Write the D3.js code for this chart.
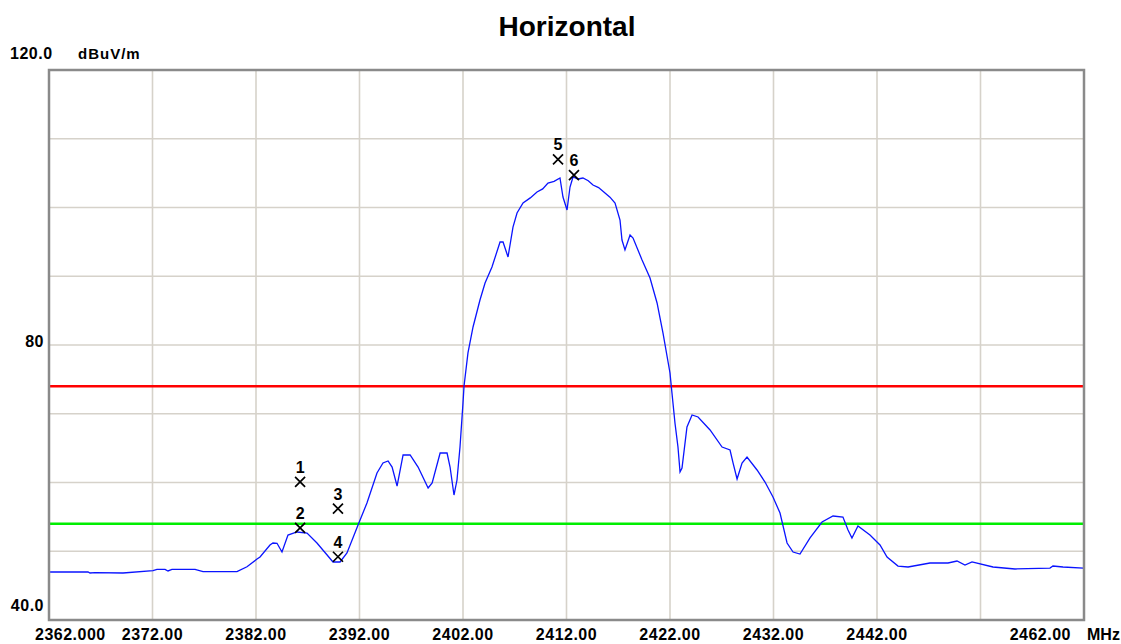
<!DOCTYPE html>
<html>
<head>
<meta charset="utf-8">
<script src="https://cdn.jsdelivr.net/npm/d3@7"></script>
<style>
  body { margin: 0; background: #fff; }
  text { font-family: "Liberation Sans", Arial, sans-serif; font-weight: bold; fill: #000; }
</style>
</head>
<body>
<script>

// ---- data ----
var title = "Horizontal";
var yUnit = "dBuV/m";
var xUnit = "MHz";

var xDomain = [2362, 2462];
var yDomain = [40, 120];

// tick labels under the axis (2452 has none in the original)
var xTickValues = [2362, 2372, 2382, 2392, 2402, 2412, 2422, 2432, 2442, 2462];
var xTickLabels = ["2362.000", "2372.00", "2382.00", "2392.00", "2402.00", "2412.00", "2422.00", "2432.00", "2442.00", "2462.00"];
var yTickValues = [120, 80, 40];
var yTickLabels = ["120.0", "80", "40.0"];

// limit lines
var limitPeak = 74;
var limitAvg = 54;

// measured trace
var freq = [2362.10, 2365.77, 2365.96, 2366.44, 2369.15, 2372.05, 2372.43, 2373.21, 2373.50, 2373.88,
  2376.11, 2376.88, 2380.16, 2381.13, 2382.10, 2382.39, 2383.35, 2383.64, 2384.03, 2384.51,
  2385.09, 2385.96, 2386.93, 2387.89, 2389.44, 2390.12, 2390.79, 2391.86, 2392.72, 2393.69,
  2394.27, 2394.76, 2395.15, 2395.63, 2396.21, 2396.89, 2397.66, 2398.63, 2399.02, 2399.79,
  2400.46, 2400.75, 2401.13, 2401.42, 2401.71, 2402.00, 2402.10, 2402.48, 2402.97, 2403.64,
  2404.13, 2404.80, 2405.58, 2405.87, 2406.35, 2406.83, 2407.22, 2407.80, 2408.50, 2409.15,
  2409.70, 2410.21, 2410.80, 2411.37, 2411.66, 2412.05, 2412.34, 2412.63, 2413.11, 2413.59,
  2414.10, 2414.56, 2415.10, 2415.72, 2416.20, 2416.69,
  2417.17, 2417.36, 2417.65, 2418.14, 2418.43, 2419.30, 2420.07, 2420.75, 2421.32, 2422.00,
  2422.19, 2422.48, 2422.77, 2422.97, 2423.16, 2423.64, 2424.13, 2424.71, 2425.87, 2427.03,
  2427.80, 2428.09, 2428.48, 2428.96, 2429.44, 2430.41, 2431.18, 2431.95, 2432.63, 2433.31,
  2433.89, 2434.56, 2435.53, 2436.69, 2437.75, 2438.71, 2439.20, 2439.58, 2440.16, 2441.32,
  2442.29, 2442.97, 2444.03, 2445.00, 2447.12, 2448.86, 2449.73, 2450.50, 2451.18, 2453.21,
  2455.33, 2458.71, 2459.00, 2459.97, 2461.94];
var level = [46.98, 46.98, 46.84, 46.90, 46.84, 47.17, 47.37, 47.35, 47.13, 47.35,
  47.37, 47.03, 47.03, 47.75, 48.87, 49.16, 50.91, 51.20, 51.16, 49.89,
  52.36, 52.80, 52.65, 51.20, 48.44, 48.44, 49.75, 53.82, 57.02, 61.38,
  62.84, 63.13, 62.25, 59.49, 64.00, 64.00, 62.25, 59.20, 59.93, 64.29,
  64.29, 62.25, 58.18, 60.36, 65.16, 71.56, 74.04, 78.84, 82.62, 86.55,
  89.02, 91.35, 94.98, 94.98, 92.80, 97.16, 99.20, 100.65, 101.40, 102.25,
  102.70, 103.56, 103.80, 104.29, 101.53, 99.64, 102.98, 104.44, 104.15, 104.29,
  103.90, 103.27, 102.90, 102.11, 101.50, 100.65,
  98.18, 95.27, 93.82, 96.00, 95.56, 92.36, 89.75, 86.11, 81.75, 75.93,
  73.02, 68.65, 65.16, 61.53, 62.11, 68.07, 69.82, 69.53, 67.64, 65.16,
  64.73, 62.84, 60.51, 62.84, 63.71, 61.82, 60.07, 57.89, 55.56, 51.20,
  49.89, 49.60, 51.93, 54.25, 55.13, 54.98, 53.09, 51.93, 53.67, 52.36,
  50.91, 49.16, 47.85, 47.71, 48.29, 48.29, 48.58, 48.00, 48.44, 47.71,
  47.42, 47.56, 47.85, 47.71, 47.56];

// markers
var markerIds = ["1", "2", "3", "4", "5", "6"];
var markerFreq = [2386.26, 2386.26, 2389.92, 2389.92, 2411.18, 2412.72];
var markerLevel = [60.1, 53.4, 56.2, 49.2, 107.0, 104.7];


// ---- layout ----
var W = 1121, H = 644;
var plot = { left: 49, top: 70, right: 1084, bottom: 620 };

var svg = d3.select("body").append("svg")
  .attr("width", W)
  .attr("height", H);

var x = d3.scaleLinear().domain(xDomain).range([plot.left, plot.right]);
var y = d3.scaleLinear().domain(yDomain).range([plot.bottom, plot.top]);

// grid
var gridX = d3.range(2372, 2462, 10);
var gridY = d3.range(50, 120, 10);

svg.append("g").selectAll("line")
  .data(gridX)
  .join("line")
  .attr("x1", function(d) { return x(d); })
  .attr("x2", function(d) { return x(d); })
  .attr("y1", plot.top)
  .attr("y2", plot.bottom)
  .attr("stroke", "#d6d2ca")
  .attr("stroke-width", 1.6);

svg.append("g").selectAll("line")
  .data(gridY)
  .join("line")
  .attr("x1", plot.left)
  .attr("x2", plot.right)
  .attr("y1", function(d) { return y(d); })
  .attr("y2", function(d) { return y(d); })
  .attr("stroke", "#d6d2ca")
  .attr("stroke-width", 1.6);

// limit lines
svg.append("line")
  .attr("x1", plot.left).attr("x2", plot.right)
  .attr("y1", y(limitPeak)).attr("y2", y(limitPeak))
  .attr("stroke", "#ff0000")
  .attr("stroke-width", 2.5);

svg.append("line")
  .attr("x1", plot.left).attr("x2", plot.right)
  .attr("y1", y(limitAvg)).attr("y2", y(limitAvg))
  .attr("stroke", "#00ee00")
  .attr("stroke-width", 2.5);

// trace
var pts = freq.map(function(f, i) { return [f, level[i]]; });
var line = d3.line()
  .x(function(d) { return x(d[0]); })
  .y(function(d) { return y(d[1]); });

svg.append("path")
  .datum(pts)
  .attr("d", line)
  .attr("fill", "none")
  .attr("stroke", "#0a14ff")
  .attr("stroke-width", 1.3);

// plot frame
svg.append("rect")
  .attr("x", plot.left)
  .attr("y", plot.top)
  .attr("width", plot.right - plot.left)
  .attr("height", plot.bottom - plot.top)
  .attr("fill", "none")
  .attr("stroke", "#8a8a8a")
  .attr("stroke-width", 2.5);

// markers
var mk = svg.append("g").selectAll("g")
  .data(markerIds)
  .join("g")
  .attr("transform", function(d, i) { return "translate(" + x(markerFreq[i]) + "," + y(markerLevel[i]) + ")"; });

mk.append("path")
  .attr("d", "M-5,-5L5,5M-5,5L5,-5")
  .attr("stroke", "#000")
  .attr("stroke-width", 1.7);

mk.append("text")
  .attr("x", 0)
  .attr("y", -9)
  .attr("text-anchor", "middle")
  .style("font-size", "16px")
  .text(function(d) { return d; });

// title
svg.append("text")
  .attr("x", 567)
  .attr("y", 36)
  .attr("text-anchor", "middle")
  .style("font-size", "28px")
  .text(title);

// y labels
svg.append("g").selectAll("text")
  .data(yTickValues)
  .join("text")
  .attr("x", function(d, i) { return i == 0 ? 10 : 44; })
  .attr("y", function(d, i) {
    if (i == 0) return 59;
    if (i == 2) return y(d) - 9;
    return y(d) + 2;
  })
  .attr("text-anchor", function(d, i) { return i == 0 ? "start" : "end"; })
  .style("font-size", "16px")
  .style("letter-spacing", "0.5px")
  .text(function(d, i) { return yTickLabels[i]; });

svg.append("text")
  .attr("x", 78)
  .attr("y", 59)
  .style("font-size", "15px")
  .style("letter-spacing", "1px")
  .text(yUnit);

// x labels
svg.append("g").selectAll("text")
  .data(xTickValues)
  .join("text")
  .attr("x", function(d, i) {
    if (i == 0) return x(d) - 14;
    if (i == xTickValues.length - 1) return x(d) - 13;
    return x(d);
  })
  .attr("y", 640)
  .attr("text-anchor", function(d, i) {
    if (i == 0) return "start";
    if (i == xTickValues.length - 1) return "end";
    return "middle";
  })
  .style("font-size", "16px")
  .style("letter-spacing", "0.5px")
  .text(function(d, i) { return xTickLabels[i]; });

svg.append("text")
  .attr("x", 1087)
  .attr("y", 640)
  .style("font-size", "16px")
  .text(xUnit);

</script>
</body>
</html>
